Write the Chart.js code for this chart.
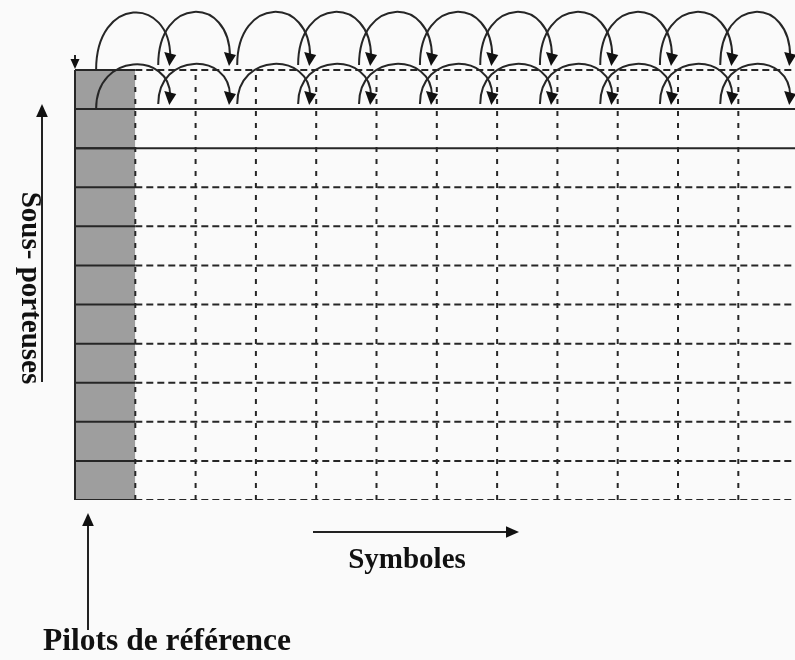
<!DOCTYPE html>
<html>
<head>
<meta charset="utf-8">
<script src="https://cdn.jsdelivr.net/npm/chart.js@4.4.0/dist/chart.umd.min.js"></script>
<style>
  html, body { margin: 0; padding: 0; background: #fafafa; overflow: hidden; }
  canvas { display: block; }
</style>
</head>
<body>
<canvas id="grille" width="795" height="660"></canvas>
<script>
// Grille temps-fréquence : symboles (colonnes) et sous-porteuses (lignes)
const symboles = [1, 2, 3, 4, 5, 6, 7, 8, 9, 10, 11];
const sousPorteuses = [0, 1, 2, 3, 4, 5, 6, 7, 8, 9, 10, 11];
const colonnePilote = [0, 1];      // colonne des pilots de référence
const lignesPleines = [9, 10];     // lignes continues en haut de la grille
// Arcs d'interpolation entre symboles : départ et arrivée (en symboles)
const arcDepart  = [0.35, 1.38, 2.69, 3.70, 4.71, 5.72, 6.72, 7.71, 8.71, 9.70, 10.70];
const arcArrivee = [1.58, 2.57, 3.90, 4.91, 5.92, 6.92, 7.91, 8.91, 9.90, 10.90, 11.86];
// niveaux des deux rangées d'arcs (en sous-porteuses)
const arcHaut = { pied: 11.0, base: 11.13, sommet: 12.46 };
const arcBas  = { pied: 10.0, base: 10.13, sommet: 11.13 };
const xMax = 11.94, yMax = 12.79;

const trait = '#262626';

function segment(p1, p2, dash) {
  return {
    data: [p1, p2], showLine: true, pointRadius: 0, order: 0,
    borderColor: trait, borderWidth: 2, borderDash: dash || [], fill: false
  };
}

const datasets = [];
// fond gris des pilots (dessiné derrière les lignes)
datasets.push({
  data: [{ x: colonnePilote[0], y: 11 }, { x: colonnePilote[1], y: 11 }],
  showLine: true, pointRadius: 0, borderWidth: 0, order: 10,
  backgroundColor: '#9e9e9e', fill: { value: 0 }
});
// lignes dans la colonne des pilots
sousPorteuses.forEach(r => {
  datasets.push(segment({ x: colonnePilote[0], y: r }, { x: colonnePilote[1], y: r }));
});
// lignes horizontales
sousPorteuses.forEach(r => {
  if (lignesPleines.includes(r)) {
    datasets.push(segment({ x: 0, y: r }, { x: xMax, y: r }));
  } else {
    datasets.push(segment({ x: colonnePilote[1], y: r }, { x: xMax, y: r }, [7, 4]));
  }
});
// lignes verticales
symboles.forEach(c => {
  datasets.push(segment({ x: c, y: 0 }, { x: c, y: 11 }, [5, 7]));
});
datasets.push(segment({ x: 0, y: 0 }, { x: 0, y: 11 }));

function fleche(ctx, x1, y1, x2, y2, taille) {
  const a = Math.atan2(y2 - y1, x2 - x1);
  ctx.beginPath(); ctx.moveTo(x1, y1); ctx.lineTo(x2 - Math.cos(a) * taille * 0.8, y2 - Math.sin(a) * taille * 0.8); ctx.stroke();
  ctx.beginPath();
  ctx.moveTo(x2, y2);
  ctx.lineTo(x2 - Math.cos(a) * taille + Math.sin(a) * taille * 0.45, y2 - Math.sin(a) * taille - Math.cos(a) * taille * 0.45);
  ctx.lineTo(x2 - Math.cos(a) * taille - Math.sin(a) * taille * 0.45, y2 - Math.sin(a) * taille + Math.cos(a) * taille * 0.45);
  ctx.closePath(); ctx.fill();
}

const arcsPlugin = {
  id: 'arcs',
  afterDatasetsDraw(chart) {
    const { ctx, scales: { x, y } } = chart;
    ctx.save();
    ctx.strokeStyle = trait; ctx.fillStyle = '#111'; ctx.lineWidth = 2;
    // bord gauche de la grille
    const xg = x.getPixelForValue(0);
    ctx.beginPath(); ctx.moveTo(xg, y.getPixelForValue(0)); ctx.lineTo(xg, y.getPixelForValue(11)); ctx.stroke();
    [arcHaut, arcBas].forEach(niv => {
      const b = y.getPixelForValue(niv.base);
      const s = y.getPixelForValue(niv.sommet);
      const c = (s - 0.25 * b) / 0.75;
      arcDepart.forEach((d, i) => {
        const x0 = x.getPixelForValue(d), x1 = x.getPixelForValue(arcArrivee[i]);
        const b0 = i === 0 ? y.getPixelForValue(niv.pied) : b;
        ctx.beginPath();
        ctx.moveTo(x0, b0);
        ctx.bezierCurveTo(x0, c, x1, c, x1, b - 8);
        ctx.stroke();
        ctx.beginPath();
        ctx.moveTo(x1 - 6, b - 13); ctx.lineTo(x1 + 6, b - 10); ctx.lineTo(x1 - 1, b + 1);
        ctx.closePath(); ctx.fill();
      });
    });
    // petite flèche au coin supérieur gauche
    fleche(ctx, xg, y.getPixelForValue(11.38), xg, y.getPixelForValue(11) - 1, 10);
    ctx.restore();
  },
  afterDraw(chart) {
    const { ctx } = chart;
    ctx.save();
    ctx.strokeStyle = '#222'; ctx.fillStyle = '#111'; ctx.lineWidth = 2;
    fleche(ctx, 42, 382, 42, 104, 13);
    fleche(ctx, 313, 532, 519, 532, 13);
    fleche(ctx, 88, 630, 88, 513, 13);
    ctx.textAlign = 'center';
    ctx.textBaseline = 'alphabetic';
    ctx.font = 'bold 29px "Liberation Serif", "Times New Roman", serif';
    ctx.fillText('Symboles', 407, 568);
    ctx.font = 'bold 31.5px "Liberation Serif", "Times New Roman", serif';
    ctx.fillText('Pilots de référence', 167, 650);
    ctx.font = 'bold 29px "Liberation Serif", "Times New Roman", serif';
    ctx.translate(22, 288);
    ctx.rotate(Math.PI / 2);
    ctx.fillText('Sous- porteuses', 0, 0);
    ctx.restore();
  }
};

new Chart(document.getElementById('grille').getContext('2d'), {
  type: 'scatter',
  data: { datasets: datasets },
  options: {
    responsive: false,
    devicePixelRatio: 1,
    animation: false,
    events: [],
    layout: { padding: { left: 75, right: 0, top: 0, bottom: 160 } },
    elements: { line: { tension: 0 } },
    plugins: { legend: { display: false }, tooltip: { enabled: false } },
    scales: {
      x: { type: 'linear', min: 0, max: xMax, display: false },
      y: { type: 'linear', min: 0, max: yMax, display: false }
    }
  },
  plugins: [arcsPlugin]
});
</script>
</body>
</html>
